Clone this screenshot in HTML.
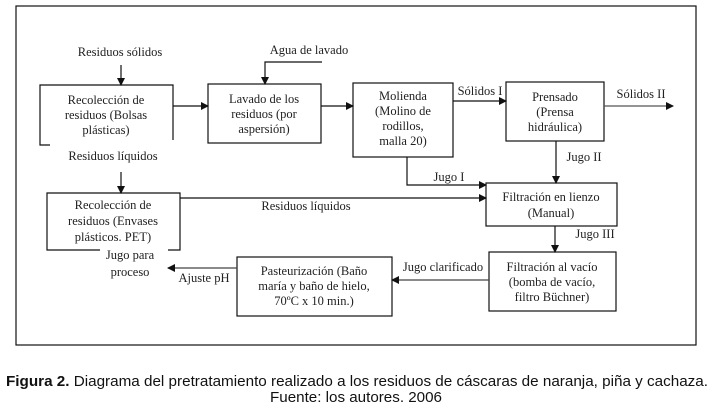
<!DOCTYPE html>
<html><head><meta charset="utf-8"><style>
html,body{margin:0;padding:0;background:#fff;}
svg{display:block;}
.t{font-family:"Liberation Serif",serif;font-size:12.5px;fill:#222;}
.c{font-family:"Liberation Sans",sans-serif;font-size:15px;fill:#111;}
</style></head><body>
<svg width="712" height="408" viewBox="0 0 712 408" xmlns="http://www.w3.org/2000/svg">
<defs><marker id="a" markerWidth="8" markerHeight="8" refX="7" refY="4" orient="auto" markerUnits="userSpaceOnUse"><path d="M0,0 L8,4 L0,8 z" fill="#111"/></marker></defs>
<g fill="none" stroke="#111" stroke-width="1.2">
<rect x="16" y="6" width="680" height="339"/>
<path d="M50,145 H40 V85 H173 V140"/>
<rect x="208" y="84" width="113" height="59"/>
<rect x="353" y="83" width="100" height="74"/>
<rect x="506" y="82" width="98" height="59"/>
<rect x="486" y="183" width="131" height="43"/>
<rect x="489" y="252" width="127" height="59"/>
<rect x="237" y="257" width="155" height="59"/>
<path d="M100,250 H47 V193 H180 V250 H168"/>
</g>
<g stroke="#111" stroke-width="1.2" fill="none" marker-end="url(#a)">
<line x1="121" y1="65" x2="121" y2="85"/>
<path d="M322,62 H265 V84"/>
<line x1="173" y1="106" x2="208" y2="106"/>
<line x1="321" y1="106" x2="353" y2="106"/>
<line x1="453" y1="101" x2="506" y2="101"/>
<line x1="604" y1="106" x2="673" y2="106" stroke="#555"/>
<line x1="556" y1="141" x2="556" y2="183"/>
<path d="M407,157 V185 H486"/>
<line x1="180" y1="198" x2="486" y2="198"/>
<line x1="121" y1="172" x2="121" y2="193"/>
<line x1="555" y1="226" x2="555" y2="252"/>
<line x1="489" y1="280" x2="392" y2="280" stroke="#444"/>
<line x1="237" y1="268" x2="168" y2="268" stroke="#444"/>
</g>
<g class="t" text-anchor="middle">
<text x="120" y="56">Residuos sólidos</text>
<text x="309" y="54">Agua de lavado</text>
<text x="106" y="104">Recolección de</text>
<text x="106" y="119">residuos (Bolsas</text>
<text x="106" y="134">plásticas)</text>
<text x="113" y="160">Residuos líquidos</text>
<text x="264" y="103">Lavado de los</text>
<text x="264" y="118">residuos (por</text>
<text x="264" y="133">aspersión)</text>
<text x="403" y="100">Molienda</text>
<text x="403" y="115">(Molino de</text>
<text x="403" y="130">rodillos,</text>
<text x="403" y="145">malla 20)</text>
<text x="480" y="95">Sólidos I</text>
<text x="555" y="101">Prensado</text>
<text x="555" y="116">(Prensa</text>
<text x="555" y="131">hidráulica)</text>
<text x="641" y="98">Sólidos II</text>
<text x="584" y="161">Jugo II</text>
<text x="449" y="181">Jugo I</text>
<text x="551" y="201">Filtración en lienzo</text>
<text x="551" y="217">(Manual)</text>
<text x="306" y="210">Residuos líquidos</text>
<text x="113" y="209">Recolección de</text>
<text x="113" y="225">residuos (Envases</text>
<text x="113" y="241">plásticos. PET)</text>
<text x="595" y="238">Jugo III</text>
<text x="552" y="271">Filtración al vacío</text>
<text x="552" y="286">(bomba de vacío,</text>
<text x="552" y="301">filtro Büchner)</text>
<text x="443" y="271">Jugo clarificado</text>
<text x="314" y="275">Pasteurización (Baño</text>
<text x="314" y="290">maría y baño de hielo,</text>
<text x="314" y="305">70ºC x 10 min.)</text>
<text x="130" y="259">Jugo para</text>
<text x="130" y="276">proceso</text>
<text x="204" y="282">Ajuste pH</text>
</g>
<text class="c" x="6" y="386" textLength="702" lengthAdjust="spacingAndGlyphs"><tspan font-weight="bold">Figura 2.</tspan> Diagrama del pretratamiento realizado a los residuos de cáscaras de naranja, piña y cachaza.</text>
<text class="c" x="270" y="402" textLength="172" lengthAdjust="spacingAndGlyphs">Fuente: los autores. 2006</text>
</svg>
</body></html>
